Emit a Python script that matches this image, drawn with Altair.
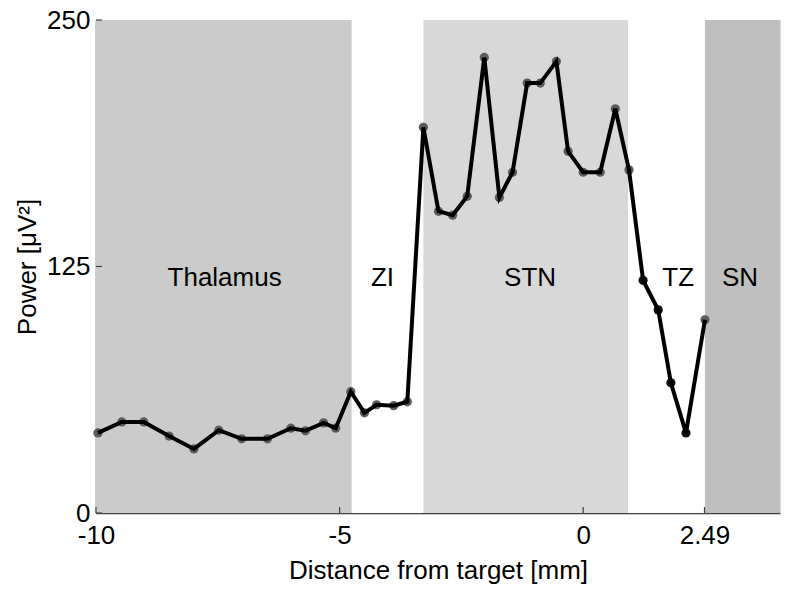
import altair as alt
import pandas as pd

# Data
dist = [-9.96, -9.47, -9.02, -8.50, -7.99, -7.48, -7.01, -6.48, -6.00, -5.70,
        -5.33, -5.08, -4.77, -4.49, -4.24, -3.89, -3.61, -3.28, -2.97, -2.68,
        -2.38, -2.03, -1.72, -1.45, -1.15, -0.88, -0.55, -0.31, 0.00, 0.35,
        0.66, 0.94, 1.23, 1.54, 1.80, 2.11, 2.50]
power = [40.6, 46.2, 46.2, 39.0, 32.5, 42.0, 37.6, 37.6, 43.0, 41.7,
         45.7, 43.0, 61.5, 50.8, 54.9, 54.4, 56.4, 195.6, 153.0, 151.0,
         160.6, 231.0, 160.0, 172.8, 218.0, 218.0, 229.0, 183.4, 172.8, 172.8,
         205.0, 174.0, 118.0, 103.0, 66.0, 40.6, 98.0]

region_names = ["Thalamus", "ZI", "STN", "TZ", "SN"]
region_start = [-10.0, -4.75, -3.28, 0.92, 2.50]
region_end = [-4.75, -3.28, 0.92, 2.50, 4.04]
region_fill = ["#cbcbcb", "#ffffff", "#d8d8d8", "#ffffff", "#bfbfbf"]
label_x = [-7.36, -4.12, -1.09, 1.95, 3.22]
label_y = 119.4

x_ticks = [-10, -5, 0, 2.49]
y_ticks = [0, 125, 250]

FONT = "Liberation Sans"

df = pd.DataFrame({"x": dist, "y": power})
reg = pd.DataFrame({"name": region_names, "x0": region_start, "x1": region_end,
                    "fill": region_fill, "lx": label_x, "ly": [label_y] * 5})
xt = pd.DataFrame({"t": x_ticks})
yt = pd.DataFrame({"t": y_ticks})

xscale = alt.Scale(domain=[-10, 4.04], nice=False, zero=False)
yscale = alt.Scale(domain=[0, 250], nice=False)

xaxis = alt.Axis(values=x_ticks, title="Distance from target [mm]", grid=False,
                 ticks=False, labelExpr="'' + datum.value", labelFontSize=26,
                 titleFontSize=26, labelFont=FONT, titleFont=FONT,
                 titleFontWeight="normal",
                 labelColor="black", titleColor="black", labelPadding=9,
                 titlePadding=9, domainColor="#404040", domainWidth=1.5,
                 labelFlush=False)
yaxis = alt.Axis(values=y_ticks, title="Power [μV²]", grid=False, ticks=False,
                 labelFontSize=26, titleFontSize=26, labelFont=FONT, titleFont=FONT,
                 titleFontWeight="normal",
                 labelColor="black", titleColor="black", labelPadding=6,
                 titlePadding=6, domainColor="#404040", domainWidth=1.5,
                 labelFlush=False, labelBaseline="middle")

regions = alt.Chart(reg).mark_rect(opacity=1).encode(
    x=alt.X("x0:Q", scale=xscale, axis=xaxis),
    x2="x1:Q",
    y=alt.value(0),
    y2=alt.value(493),
    color=alt.Color("fill:N", scale=None),
)

labels = alt.Chart(reg).mark_text(font=FONT, fontSize=26, color="black").encode(
    x=alt.X("lx:Q", scale=xscale),
    y=alt.Y("ly:Q", scale=yscale, axis=yaxis),
    text="name:N",
)

xtick_marks = alt.Chart(xt).mark_rule(color="#404040", strokeWidth=1.2).encode(
    x=alt.X("t:Q", scale=xscale), y=alt.value(493), y2=alt.value(487))
ytick_marks = alt.Chart(yt).mark_rule(color="#404040", strokeWidth=1.2).encode(
    y=alt.Y("t:Q", scale=yscale), x=alt.value(0), x2=alt.value(6))

points = alt.Chart(df).mark_circle(size=85, opacity=1).encode(
    x=alt.X("x:Q", scale=xscale),
    y=alt.Y("y:Q", scale=yscale),
    color=alt.condition("datum.x > 1.0 && datum.x < 2.4",
                        alt.value("#111111"), alt.value("#5c5c5c")),
)

line = alt.Chart(df).mark_line(color="black", strokeWidth=4).encode(
    x=alt.X("x:Q", scale=xscale),
    y=alt.Y("y:Q", scale=yscale),
)

chart = alt.layer(regions, labels, xtick_marks, ytick_marks, points, line).properties(
    width=684, height=493,
    autosize=alt.AutoSizeParams(type="none"),
    padding={"left": 88, "top": 12, "right": 3, "bottom": 73},
).configure_view(stroke=None).configure(background="white")

chart.save("out.html", embed_options={"renderer": "svg", "actions": False})
